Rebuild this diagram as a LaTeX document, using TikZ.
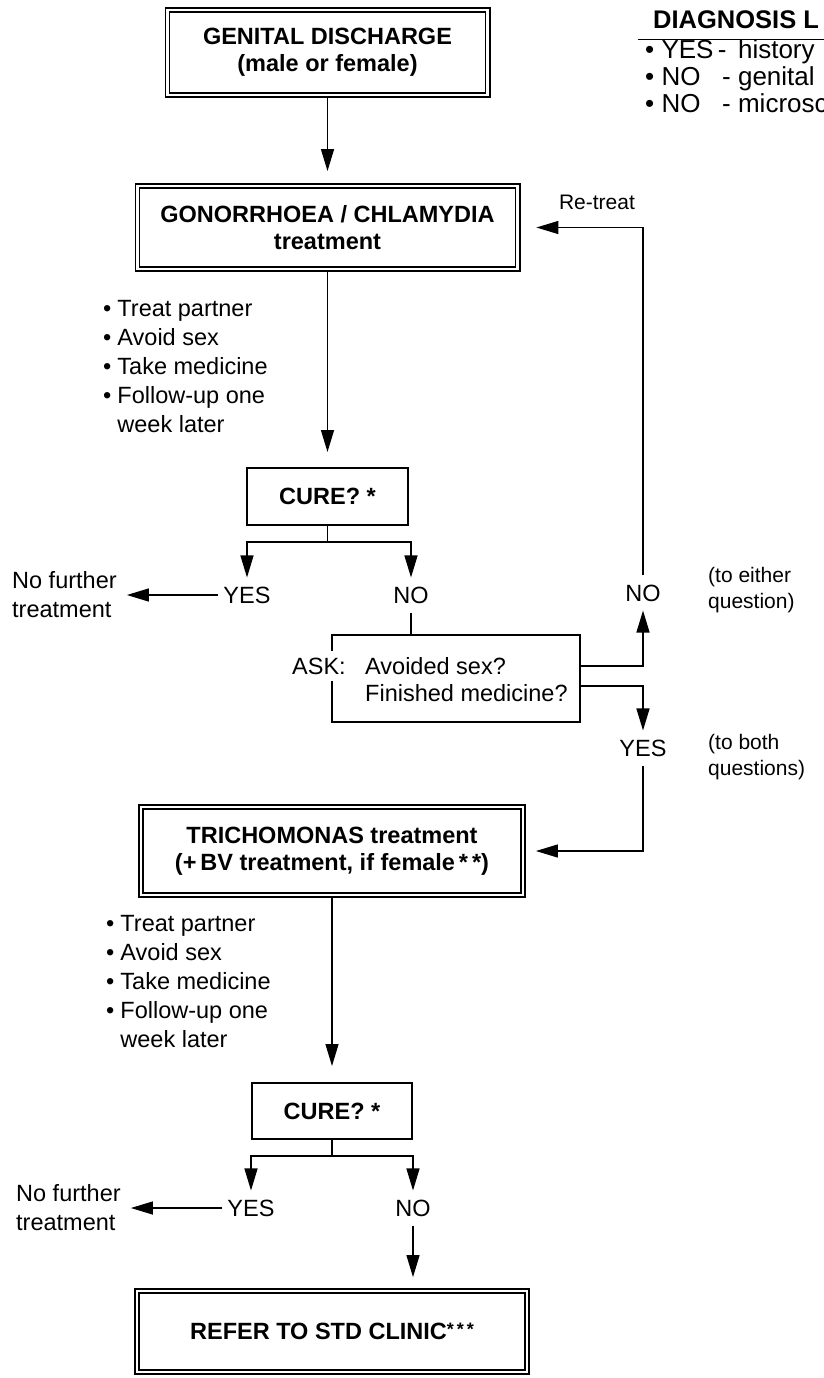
\documentclass[tikz,border=0pt]{standalone}
\usepackage{fontspec}
\setmainfont{Liberation Sans}
\usetikzlibrary{arrows.meta,positioning}
\newcommand{\bodyfont}{\fontsize{23.5}{29}\selectfont}
\newcommand{\boxfont}{\fontsize{23.5}{27}\selectfont\bfseries}
\newcommand{\notefont}{\fontsize{21}{26}\selectfont}

\begin{document}
\begin{tikzpicture}[x=1pt,y=-1pt,
every node/.style={font=\bodyfont},
dblbox/.style={draw,double,line width=1.6pt,double distance=2.6pt,align=center,inner sep=0pt,font=\boxfont},
onebox/.style={draw,line width=2pt,inner sep=0pt,font=\boxfont},
lbl/.style={inner xsep=5pt,inner ysep=9pt},
arr/.style={-{Triangle[length=22pt,width=13pt]},line width=1.3pt},
line/.style={line width=1.3pt}]
\useasboundingbox (0,0) rectangle (824,1378);
\node[dblbox,minimum width=320.2pt,minimum height=85.2pt] (GD) at (327.5,52.5) {GENITAL DISCHARGE\\(male or female)};
\node[dblbox,minimum width=380.2pt,minimum height=83.2pt] (GC) at (327.5,227.5) {GONORRHOEA / CHLAMYDIA\\treatment};
\node[onebox,minimum width=161pt,minimum height=57pt] (CU1) at (327.5,496.5) {CURE? *};
\node[draw,line width=1.8pt,minimum width=248pt,minimum height=87pt,inner sep=0pt] (ASK) at (456,678.5) {};
\node[dblbox,minimum width=382.2pt,minimum height=88.2pt] (TR) at (332,851) {TRICHOMONAS treatment\\(+\,BV treatment, if female\,*\,*)};
\node[onebox,minimum width=160pt,minimum height=56pt] (CU2) at (332,1111) {CURE? *};
\node[dblbox,minimum width=390.2pt,minimum height=81.2pt] (REF) at (332,1331.5) {REFER TO STD CLINIC\raisebox{4pt}{\fontsize{18}{18}\selectfont*\,*\,*}};

\node[anchor=west,inner sep=0pt,font=\fontsize{25.5}{29}\selectfont\bfseries,inner ysep=10pt] (DG) at (653,20) {DIAGNOSIS L};
\draw[line width=1.4pt] ([xshift=-15pt]DG.south west) -- ([xshift=20pt]DG.south east);
\node[anchor=west,inner sep=0pt,font=\fontsize{26}{26}\selectfont] (DL) at (645,80) {\begin{tabular}{@{}l@{\ }l@{}}\textbullet\ YES\,- & history\\ \textbullet\ NO\ \ \ - & genital\\ \textbullet\ NO\ \ \ - & microsc\end{tabular}};

\node[anchor=west,inner sep=0pt] (L1) at (103,369) {\begin{tabular}{@{}l@{\hspace{6pt}}l@{}}\textbullet & Treat partner\\ \textbullet & Avoid sex\\ \textbullet & Take medicine\\ \textbullet & Follow-up one\\ & week later\end{tabular}};
\node[anchor=west,inner sep=0pt] (L2) at (106,984) {\begin{tabular}{@{}l@{\hspace{6pt}}l@{}}\textbullet & Treat partner\\ \textbullet & Avoid sex\\ \textbullet & Take medicine\\ \textbullet & Follow-up one\\ & week later\end{tabular}};

\node[lbl] (YES1) at (247,595) {YES};
\node[lbl] (NO1) at (411,595) {NO};
\node[anchor=west,inner sep=0pt,align=left] (NF1) at (12,595) {No further\\treatment};
\node[lbl] (NO2) at (643,593) {NO};
\node[lbl] (YES2) at (643,748) {YES};
\node[font=\notefont] (RT) at (597,202) {Re-treat};
\node[anchor=west,align=left,inner sep=0pt,font=\notefont] (EQ) at (708,590) {(to either\\question)};
\node[anchor=west,align=left,inner sep=0pt,font=\notefont] (BQ) at (708,757) {(to both\\questions)};
\node[fill=white,anchor=west,inner xsep=3pt,inner ysep=7pt] (AK) at (289,666) {ASK:};
\node[anchor=west,inner sep=0pt,align=left,font=\fontsize{23.5}{27}\selectfont] (AQ) at (365,680) {Avoided sex?\\Finished medicine?};
\node[lbl] (YES3) at (251,1208) {YES};
\node[lbl] (NO3) at (413,1208) {NO};
\node[anchor=west,inner sep=0pt,align=left] (NF2) at (16,1208) {No further\\treatment};

\coordinate (B1) at (327.5,542);
\coordinate (B2) at (332,1156);
\draw[arr,shorten >=14pt] (GD) -- (GC);
\draw[arr,shorten >=15pt] (GC) -- (CU1);
\draw[line] (CU1) -- (B1);
\draw[arr] (B1) -| (YES1);
\draw[arr] (B1) -| (NO1);
\draw[arr,shorten >=10pt] (YES1) -- (NF1);
\draw[line] (NO1) -- (NO1 |- ASK.north);
\draw[arr] ([yshift=12.5pt]ASK.east) -| (NO2);
\draw[arr] ([yshift=-7.5pt]ASK.east) -| (YES2);
\draw[arr,shorten >=18pt] (NO2) |- (GC);
\draw[arr,shorten >=12pt] (YES2) |- (TR);
\draw[arr,shorten >=16pt] (TR) -- (CU2);
\draw[line] (CU2) -- (B2);
\draw[arr] (B2) -| (YES3);
\draw[arr] (B2) -| (NO3);
\draw[arr,shorten >=10pt] (YES3) -- (NF2);
\draw[arr,shorten >=13pt] (NO3) -- (NO3 |- REF.north);
\end{tikzpicture}
\end{document}
